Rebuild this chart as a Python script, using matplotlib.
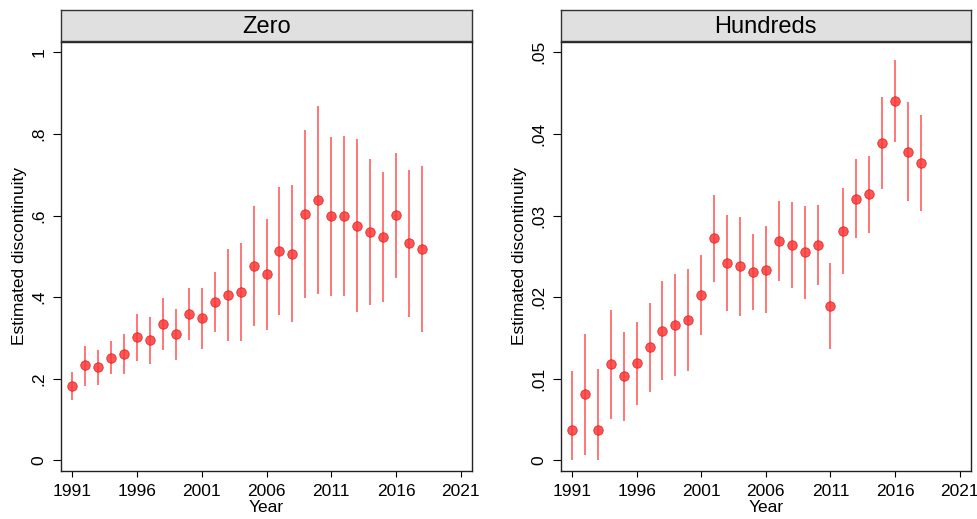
import matplotlib
matplotlib.use("Agg")
import matplotlib.pyplot as plt
import numpy as np

plt.rcParams['font.family'] = ['Liberation Sans', 'DejaVu Sans']

years = list(range(1991, 2019))

# Zero: point estimates and 95% confidence bounds
zero_est = [0.182, 0.233, 0.228, 0.252, 0.261, 0.302, 0.295, 0.334, 0.309, 0.359,
            0.348, 0.388, 0.405, 0.413, 0.476, 0.456, 0.513, 0.506, 0.604, 0.638,
            0.598, 0.599, 0.575, 0.560, 0.548, 0.601, 0.532, 0.518]
zero_hi = [0.217, 0.280, 0.270, 0.292, 0.310, 0.359, 0.352, 0.398, 0.372, 0.422,
           0.422, 0.461, 0.517, 0.532, 0.624, 0.591, 0.669, 0.674, 0.810, 0.868,
           0.792, 0.795, 0.788, 0.738, 0.707, 0.754, 0.712, 0.721]
zero_lo = [0.148, 0.182, 0.185, 0.211, 0.211, 0.244, 0.237, 0.270, 0.245, 0.295,
           0.274, 0.315, 0.293, 0.293, 0.329, 0.319, 0.356, 0.340, 0.398, 0.408,
           0.404, 0.403, 0.363, 0.381, 0.388, 0.448, 0.352, 0.315]

# Hundreds: point estimates and 95% confidence bounds
hund_est = [0.00368, 0.0081, 0.00368, 0.01177, 0.0103, 0.0119, 0.01386, 0.0159, 0.0166, 0.01717,
            0.02031, 0.02723, 0.02416, 0.0238, 0.0231, 0.02338, 0.02694, 0.02641, 0.02551, 0.02641,
            0.01896, 0.02813, 0.03201, 0.03262, 0.03888, 0.04398, 0.03781, 0.03638]
hund_hi = [0.01095, 0.01553, 0.01116, 0.01843, 0.01578, 0.01696, 0.01933, 0.02195, 0.02285, 0.02343,
           0.02522, 0.0325, 0.03005, 0.02984, 0.02776, 0.0287, 0.03177, 0.03168, 0.03115, 0.03128,
           0.02420, 0.03336, 0.03687, 0.03732, 0.04456, 0.04906, 0.04386, 0.04227]
hund_lo = [0.0, 0.0006, 0.0, 0.0051, 0.00478, 0.00678, 0.00842, 0.00981, 0.0103, 0.01095,
           0.0154, 0.0219, 0.01831, 0.01774, 0.0184, 0.0181, 0.02203, 0.0211, 0.01978, 0.0215,
           0.01369, 0.02281, 0.02727, 0.02792, 0.03324, 0.03896, 0.03177, 0.03058]

xticks = [1991, 1996, 2001, 2006, 2011, 2016, 2021]
zero_yticks = [0, 0.2, 0.4, 0.6, 0.8, 1.0]
zero_ylabels = ['0', '.2', '.4', '.6', '.8', '1']
hund_yticks = [0, 0.01, 0.02, 0.03, 0.04, 0.05]
hund_ylabels = ['0', '.01', '.02', '.03', '.04', '.05']

W, H = 978, 519
fig = plt.figure(figsize=(W / 100, H / 100), dpi=100)

panels = [
    ("Zero", zero_est, zero_lo, zero_hi, zero_yticks, zero_ylabels, 61.3, 471.7),
    ("Hundreds", hund_est, hund_lo, hund_hi, hund_yticks, hund_ylabels, 561.0, 970.7),
]

top_px, bot_px = 41.7, 471.0
strip_top = 10.3

for title, est, lo, hi, yt, yl, x0, x1 in panels:
    ax = fig.add_axes([x0 / W, 1 - bot_px / H, (x1 - x0) / W, (bot_px - top_px) / H])
    est = np.array(est)
    lo = np.array(lo)
    hi = np.array(hi)
    ax.vlines(years, lo, hi, color='#ff6b6b', lw=1.3, zorder=2)
    ax.plot(years, est, 'o', ms=6.8, mfc=(1, 0.22, 0.22, 0.85), mec=(0.88, 0.12, 0.12, 0.9),
            mew=0.6, zorder=3)
    ymax = yt[-1]
    pad = ymax * 0.026
    ax.set_ylim(-pad, ymax + pad)
    ax.set_xlim(1990.15, 2021.85)
    ax.set_xticks(xticks)
    ax.set_xticklabels([str(t) for t in xticks], fontsize=12.5)
    ax.set_yticks(yt)
    ax.set_yticklabels(yl, fontsize=12.5, rotation=90, va='center')
    ax.tick_params(axis='y', length=5.8, width=0.8, pad=5)
    ax.tick_params(axis='x', length=4.2, width=0.8, pad=5)
    ax.set_xlabel('Year', fontsize=12.5, labelpad=1)
    ax.set_ylabel('Estimated discontinuity', fontsize=12.5, labelpad=3)
    for s in ax.spines.values():
        s.set_linewidth(1.0)
        s.set_color('#222222')

    # header strip above the panel
    sax = fig.add_axes([x0 / W, 1 - (top_px - 0.7) / H, (x1 - x0) / W, (top_px - 0.7 - strip_top) / H])
    sax.set_facecolor('#e0e0e0')
    sax.set_xticks([])
    sax.set_yticks([])
    for s in sax.spines.values():
        s.set_linewidth(1.0)
        s.set_color('#333333')
    sax.text(0.5, 0.45, title, ha='center', va='center', fontsize=17, transform=sax.transAxes)

fig.savefig('out.png', dpi=100)
